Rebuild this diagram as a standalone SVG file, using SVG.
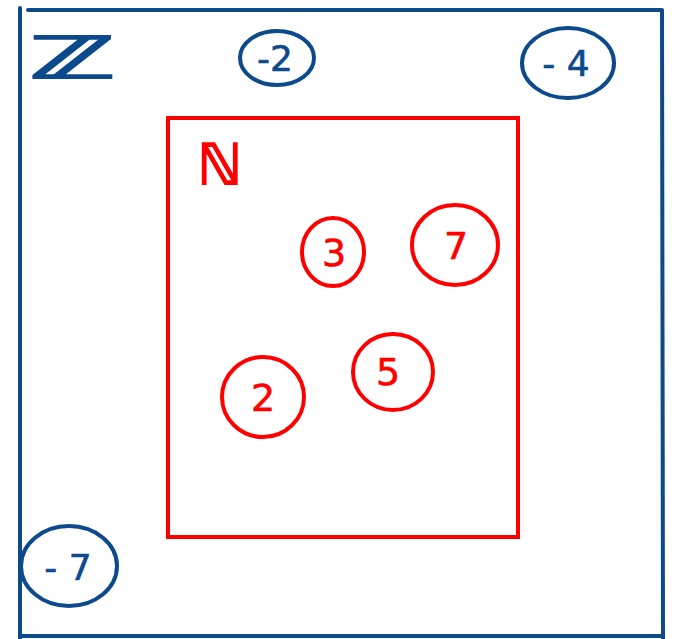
<svg xmlns="http://www.w3.org/2000/svg" width="674" height="639" viewBox="0 0 674 639">
<style>
.b{fill:none;stroke:#0c4a8c;stroke-width:4;stroke-linecap:round}
.r{fill:none;stroke:#ff0000;stroke-width:4;stroke-linecap:round}
.bt{fill:#0c4a8c;font-family:"DejaVu Sans",sans-serif;font-size:36px;text-anchor:middle;stroke:#0c4a8c;stroke-width:0.6}
.rt{fill:#ff0000;font-family:"DejaVu Sans",sans-serif;font-size:38px;text-anchor:middle;stroke:#ff0000;stroke-width:0.6}
</style>
<rect width="674" height="639" fill="#fff"/>
<g id="setZ">
<path class="b" d="M28 10 L662 10 M20 8 L20 639 M662 10 L663 639 M22 636 L662 636"/>
<text class="bt" x="72" y="78" style="font-size:58px;stroke-width:2" transform="translate(72 0) scale(2 1) translate(-72 0)">ℤ</text>
</g>
<g id="setN">
<rect class="r" x="168" y="118" width="350" height="419"/>
<text class="rt" x="220" y="184" style="font-size:56px;stroke-width:2">ℕ</text>
</g>
<g id="n-2"><ellipse class="b" cx="277" cy="58" rx="37" ry="27"/><text class="bt" x="275" y="71">-2</text></g>
<g id="n-4"><ellipse class="b" cx="568" cy="63" rx="46" ry="35"/><text class="bt" x="566" y="76">- 4</text></g>
<g id="n-7"><ellipse class="b" cx="69" cy="566" rx="48" ry="40"/><text class="bt" x="68" y="580">- 7</text></g>
<g id="n3"><ellipse class="r" cx="333" cy="252" rx="31" ry="34"/><text class="rt" x="334" y="266">3</text></g>
<g id="n7"><ellipse class="r" cx="455" cy="245" rx="43" ry="40"/><text class="rt" x="456" y="259">7</text></g>
<g id="n5"><ellipse class="r" cx="393" cy="372" rx="40" ry="38"/><text class="rt" x="388" y="385">5</text></g>
<g id="n2"><ellipse class="r" cx="263" cy="397" rx="41" ry="40"/><text class="rt" x="263" y="411">2</text></g>
</svg>
